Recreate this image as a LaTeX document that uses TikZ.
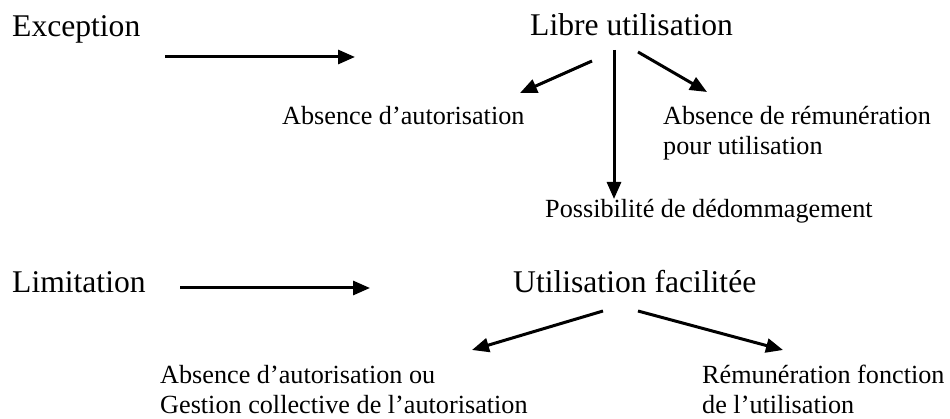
\documentclass[tikz,border=0pt]{standalone}
\usepackage{fontspec}
\setmainfont{Liberation Serif}
\usetikzlibrary{arrows.meta}
\tikzset{
  big/.style={inner sep=0pt, anchor=base west, font=\fontsize{31.6}{36}\selectfont},
  small/.style={inner sep=0pt, anchor=base west, font=\fontsize{26.2}{30}\selectfont},
  arr/.style={line width=3pt, -{Triangle[length=17pt,width=14pt]}}
}
\begin{document}
\begin{tikzpicture}[x=1pt,y=-1pt]
\useasboundingbox (0,0) rectangle (950,419);
% top group
\node[big] (exc) at (12,37) {Exception};
\node[big] (libre) at (530,36) {Libre utilisation};
\node[small] (absaut) at (282,125) {Absence d’autorisation};
\node[small] (absrem) at (663,125) {Absence de rémunération};
\node[small] (absrem2) at (663,155) {pour utilisation};
\node[small] (poss) at (545,218) {Possibilité de dédommagement};
\coordinate (a1s) at (165,57);
\coordinate (a1e) at (355,57);
\coordinate (l1s) at (592,61);
\coordinate (l1e) at (520,93);
\coordinate (v1s) at (614,50);
\coordinate (v1e) at (614,199);
\coordinate (r1s) at (638,52);
\coordinate (r1e) at (707,92);
\draw[arr] (a1s) -- (a1e);
\draw[arr] (l1s) -- (l1e);
\draw[arr] (v1s) -- (v1e);
\draw[arr] (r1s) -- (r1e);
% bottom group
\node[big] (lim) at (12,293) {Limitation};
\node[big] (fac) at (513,293) {Utilisation facilitée};
\node[small] (ges) at (160,384) {Absence d’autorisation ou};
\node[small] (ges2) at (160,413) {Gestion collective de l’autorisation};
\node[small] (fon) at (702,384) {Rémunération fonction};
\node[small] (fon2) at (702,413) {de l’utilisation};
\coordinate (a2s) at (180,288);
\coordinate (a2e) at (370,288);
\coordinate (l2s) at (603,311);
\coordinate (l2e) at (472,350);
\coordinate (r2s) at (638,311);
\coordinate (r2e) at (783,350);
\draw[arr] (a2s) -- (a2e);
\draw[arr] (l2s) -- (l2e);
\draw[arr] (r2s) -- (r2e);
\end{tikzpicture}
\end{document}
